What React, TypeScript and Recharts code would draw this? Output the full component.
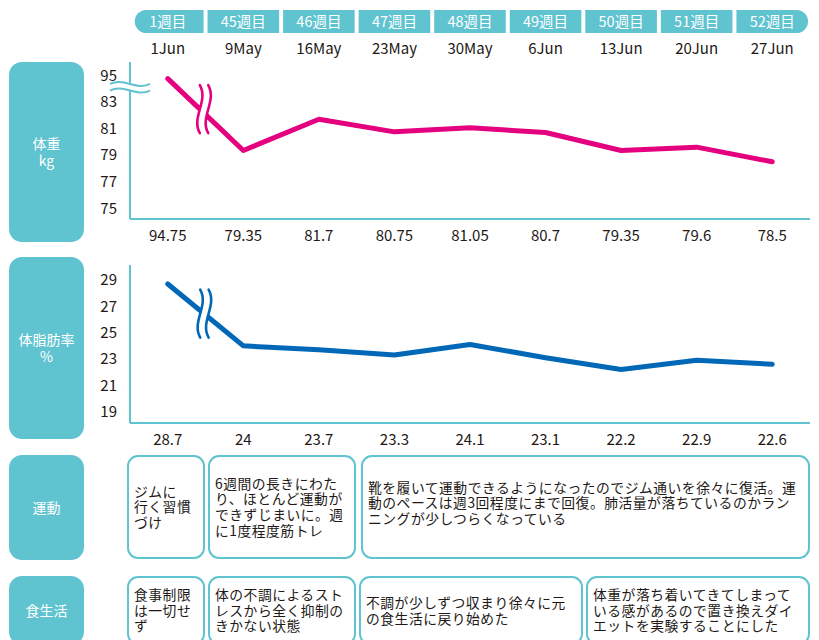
import React from 'react';
import { LineChart, Line, XAxis, YAxis, ReferenceDot } from 'recharts';

const weeks = ['1週目', '45週目', '46週目', '47週目', '48週目', '49週目', '50週目', '51週目', '52週目'];
const dates = ['1Jun', '9May', '16May', '23May', '30May', '6Jun', '13Jun', '20Jun', '27Jun'];
const weight = [94.75, 79.35, 81.7, 80.75, 81.05, 80.7, 79.35, 79.6, 78.5];
const bodyFat = [28.7, 24, 23.7, 23.3, 24.1, 23.1, 22.2, 22.9, 22.6];
const weightTicks = [75, 77, 79, 81, 83, 95];
const fatTicks = [19, 21, 23, 25, 27, 29];
const WEIGHT_BREAK = 84; // values above this are shifted down by the axis break
const WEIGHT_SHIFT = 10;

const exerciseNotes = [
  ['ジムに', '行く習慣', 'づけ'],
  ['6週間の長きにわた', 'り、ほとんど運動が', 'できずじまいに。週', 'に1度程度筋トレ'],
  [
    '靴を履いて運動できるようになったのでジム通いを徐々に復活。運',
    '動のペースは週3回程度にまで回復。肺活量が落ちているのかラン',
    'ニングが少しつらくなっている',
  ],
];
const dietNotes = [
  ['食事制限', 'は一切せ', 'ず'],
  ['体の不調によるスト', 'レスから全く抑制の', 'きかない状態'],
  ['不調が少しずつ収まり徐々に元', 'の食生活に戻り始めた'],
  ['体重が落ち着いてきてしまって', 'いる感があるので置き換えダイ', 'エットを実験することにした'],
];

const TEAL = '#60c3d0';
const PINK = '#e4007f';
const BLUE = '#0068b7';
const INK = '#231815';
const FONT = '"Noto Sans CJK JP", "Noto Sans", sans-serif';

const toPlot = (v: number) => (v > WEIGHT_BREAK ? v - WEIGHT_SHIFT : v);
const fromPlot = (v: number) => (v > WEIGHT_BREAK ? v + WEIGHT_SHIFT : v);

const idx = weeks.map((_, i) => i);
const weightData = weight.map((v, i) => ({ idx: i, value: v, plot: toPlot(v) }));
const fatData = bodyFat.map((v, i) => ({ idx: i, value: v, plot: v }));

const TopTick = (props: any) => {
  const { x, payload } = props;
  const i = payload.value as number;
  const y0 = 10;
  const h = 23;
  const r = h / 2;
  const left = i === 0 ? x - 33 : x - 36.8 + 1;
  const right = x + 36.8 - 1;
  let d = `M${left},${y0} H${right} V${y0 + h} H${left} Z`;
  if (i === 0) {
    d = `M${left + r},${y0} H${right} V${y0 + h} H${left + r} A${r},${r} 0 0 1 ${left + r},${y0} Z`;
  } else if (i === weeks.length - 1) {
    d = `M${left},${y0} H${right - r} A${r},${r} 0 0 1 ${right - r},${y0 + h} H${left} Z`;
  }
  return (
    <g>
      <path d={d} fill={TEAL} />
      <text x={x} y={y0 + 16.5} textAnchor="middle" fontSize={14.5} fill="#fff" fontFamily={FONT}>
        {weeks[i]}
      </text>
      <text x={x} y={53.5} textAnchor="middle" fontSize={15} fill={INK} fontFamily={FONT}>
        {dates[i]}
      </text>
    </g>
  );
};

const LineBreakMark = ({ cx, cy, color, h }: any) => {
  const half = h / 2;
  const g = 4.2;
  const curve = (x0: number) =>
    `M${x0},${cy - half} C${x0 + 9},${cy - half / 3} ${x0 - 9},${cy + half / 3} ${x0},${cy + half}`;
  const a = cx - g;
  const b = cx + g;
  const fill =
    `M${a},${cy - half} C${a + 9},${cy - half / 3} ${a - 9},${cy + half / 3} ${a},${cy + half} ` +
    `L${b},${cy + half} C${b - 9},${cy + half / 3} ${b + 9},${cy - half / 3} ${b},${cy - half} Z`;
  return (
    <g>
      <path d={fill} fill="#fff" stroke="none" />
      <path d={curve(a)} fill="none" stroke={color} strokeWidth={2.6} strokeLinecap="round" />
      <path d={curve(b)} fill="none" stroke={color} strokeWidth={2.6} strokeLinecap="round" />
    </g>
  );
};

const AxisBreakMark = ({ cx, cy }: any) => {
  const w = 20;
  const g = 3.3;
  const curve = (y0: number) =>
    `M${cx - w},${y0} C${cx - w / 3},${y0 - 7} ${cx + w / 3},${y0 + 7} ${cx + w},${y0}`;
  const a = cy - g;
  const b = cy + g;
  const fill =
    `M${cx - w},${a} C${cx - w / 3},${a - 7} ${cx + w / 3},${a + 7} ${cx + w},${a} ` +
    `L${cx + w},${b} C${cx + w / 3},${b + 7} ${cx - w / 3},${b - 7} ${cx - w},${b} Z`;
  return (
    <g>
      <path d={fill} fill="#fff" stroke="none" />
      <path d={curve(a)} fill="none" stroke={TEAL} strokeWidth={2} />
      <path d={curve(b)} fill="none" stroke={TEAL} strokeWidth={2} />
    </g>
  );
};

const Label = ({ top, height, lines }: { top: number; height: number; lines: string[] }) => (
  <div
    style={{
      position: 'absolute',
      left: 9,
      top,
      width: 75,
      height,
      borderRadius: 13,
      background: TEAL,
      color: '#fff',
      fontSize: 14,
      lineHeight: '17px',
      display: 'flex',
      flexDirection: 'column',
      alignItems: 'center',
      justifyContent: 'center',
      textAlign: 'center',
    }}
  >
    {lines.map((l, i) => (
      <div key={i}>{l}</div>
    ))}
  </div>
);

const NoteBox = ({ left, width, top, height, lines, pb = 0 }: any) => (
  <div
    style={{
      position: 'absolute',
      left,
      top,
      width,
      height,
      boxSizing: 'border-box',
      border: `2px solid ${TEAL}`,
      borderRadius: 11,
      background: '#fff',
      color: INK,
      fontSize: 13.8,
      letterSpacing: 0.5,
      lineHeight: '15.6px',
      paddingLeft: 5,
      paddingBottom: pb,
      display: 'flex',
      flexDirection: 'column',
      justifyContent: 'center',
      whiteSpace: 'nowrap',
    }}
  >
    {lines.map((l: string, i: number) => (
      <div key={i}>{l}</div>
    ))}
  </div>
);

const tickStyle = { fontSize: 15, fill: INK, fontFamily: FONT };

export default function App() {
  const wBreakY = (toPlot(weight[0]) + toPlot(weight[1])) / 2 + 0.4;
  const fBreakY = (bodyFat[0] + bodyFat[1]) / 2 + 0.1;
  return (
    <div
      style={{
        position: 'absolute',
        left: 0,
        top: 0,
        width: 819,
        height: 640,
        overflow: 'hidden',
        background: '#fff',
        fontFamily: FONT,
      }}
    >
      <div style={{ position: 'absolute', left: 0, top: 0 }}>
        <LineChart width={819} height={245} data={weightData} margin={{ top: 0, right: 9, bottom: 0, left: 90 }}>
          <XAxis
            xAxisId="top"
            orientation="top"
            type="number"
            dataKey="idx"
            domain={[-0.5, 8.5]}
            ticks={idx}
            interval={0}
            height={62}
            axisLine={false}
            tickLine={false}
            tick={<TopTick />}
          />
          <XAxis
            type="number"
            dataKey="idx"
            domain={[-0.5, 8.5]}
            ticks={idx}
            interval={0}
            height={26}
            tickSize={0}
            tickMargin={11}
            tickLine={false}
            axisLine={{ stroke: TEAL, strokeWidth: 2 }}
            tickFormatter={(v: number) => String(weight[v])}
            tick={tickStyle}
          />
          <YAxis
            type="number"
            domain={[74.2, 86]}
            allowDataOverflow
            ticks={weightTicks.map(toPlot)}
            interval={0}
            width={40}
            tickSize={0}
            tickMargin={13}
            tickLine={false}
            axisLine={{ stroke: TEAL, strokeWidth: 2 }}
            tickFormatter={(v: number) => String(fromPlot(v))}
            tick={tickStyle}
          />
          <Line
            xAxisId="top"
            dataKey="plot"
            stroke="none"
            dot={false}
            activeDot={false}
            legendType="none"
            isAnimationActive={false}
          />
          <Line
            type="linear"
            dataKey="plot"
            stroke={PINK}
            strokeWidth={5}
            strokeLinecap="round"
            strokeLinejoin="round"
            dot={false}
            activeDot={false}
            isAnimationActive={false}
          />
          <ReferenceDot
            x={-0.5}
            y={84.1}
            r={1}
            ifOverflow="visible"
            shape={(p: any) => <AxisBreakMark cx={p.cx} cy={p.cy} />}
          />
          <ReferenceDot
            x={0.48}
            y={wBreakY}
            r={1}
            ifOverflow="visible"
            shape={(p: any) => <LineBreakMark cx={p.cx} cy={p.cy} color={PINK} h={48} />}
          />
        </LineChart>
      </div>

      <div style={{ position: 'absolute', left: 0, top: 250 }}>
        <LineChart width={819} height={199} data={fatData} margin={{ top: 15, right: 9, bottom: 0, left: 90 }}>
          <XAxis
            type="number"
            dataKey="idx"
            domain={[-0.5, 8.5]}
            ticks={idx}
            interval={0}
            height={26}
            tickSize={0}
            tickMargin={11}
            tickLine={false}
            axisLine={{ stroke: TEAL, strokeWidth: 2 }}
            tickFormatter={(v: number) => String(bodyFat[v])}
            tick={tickStyle}
          />
          <YAxis
            type="number"
            domain={[18.14, 30.14]}
            allowDataOverflow
            ticks={fatTicks}
            interval={0}
            width={40}
            tickSize={0}
            tickMargin={13}
            tickLine={false}
            axisLine={{ stroke: TEAL, strokeWidth: 2 }}
            tick={tickStyle}
          />
          <Line
            type="linear"
            dataKey="plot"
            stroke={BLUE}
            strokeWidth={5}
            strokeLinecap="round"
            strokeLinejoin="round"
            dot={false}
            activeDot={false}
            isAnimationActive={false}
          />
          <ReferenceDot
            x={0.485}
            y={fBreakY}
            r={1}
            ifOverflow="visible"
            shape={(p: any) => <LineBreakMark cx={p.cx} cy={p.cy} color={BLUE} h={48} />}
          />
        </LineChart>
      </div>

      <Label top={62} height={180} lines={['体重', 'kg']} />
      <Label top={257} height={182} lines={['体脂肪率', '%']} />
      <Label top={455} height={105} lines={['運動']} />
      <Label top={576} height={69} lines={['食生活']} />

      <NoteBox left={127} width={78} top={455} height={104} lines={exerciseNotes[0]} />
      <NoteBox left={208} width={148} top={455} height={104} lines={exerciseNotes[1]} />
      <NoteBox left={361} width={449} top={455} height={104} lines={exerciseNotes[2]} pb={8} />

      <NoteBox left={127} width={78} top={576} height={69} lines={dietNotes[0]} />
      <NoteBox left={208} width={148} top={576} height={69} lines={dietNotes[1]} />
      <NoteBox left={359} width={224} top={576} height={69} lines={dietNotes[2]} />
      <NoteBox left={586} width={224} top={576} height={69} lines={dietNotes[3]} />
    </div>
  );
}
